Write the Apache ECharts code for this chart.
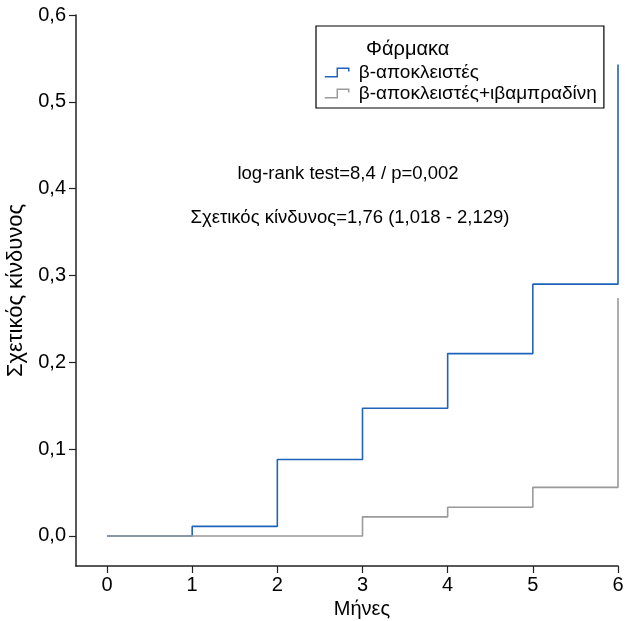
<!DOCTYPE html>
<html>
<head>
<meta charset="utf-8">
<script src="https://cdn.jsdelivr.net/npm/echarts@6/dist/echarts.min.js"></script>
<style>
html, body { margin: 0; padding: 0; background: #fff; }
#chart { width: 625px; height: 621px; }
</style>
</head>
<body>
<div id="chart"></div>
<script>
// χρόνος σε μήνες και αθροιστικός κίνδυνος ανά ομάδα
const months = [0, 1, 2, 3, 4, 5, 6]
const betaBlocker = [0, 0.011, 0.088, 0.147, 0.21, 0.29, 0.543]
const grayMonths = [0, 3, 4, 5, 6]
const betaIvabradine = [0, 0.022, 0.033, 0.056, 0.274]
const yTicks = [0, 0.1, 0.2, 0.3, 0.4, 0.5, 0.6]
const seriesNames = ['β-αποκλειστές', 'β-αποκλειστές+ιβαμπραδίνη']

const font = 'Liberation Sans, Arial, sans-serif'
const stepIcon = 'path://M0,9 L12,9 L12,1 L23,1 L23,4'

const myChart = echarts.init(document.getElementById('chart'))

const option = {
  animation: false,
  title: {
    text: 'Φάρμακα',
    left: 361,
    top: 34,
    textStyle: { fontFamily: font, fontSize: 20, fontWeight: 'normal', color: '#000' }
  },
  legend: {
    data: seriesNames,
    orient: 'vertical',
    left: 316,
    top: 26,
    padding: [37, 7, 5, 8],
    borderColor: '#000',
    borderWidth: 1.2,
    itemGap: 2,
    itemWidth: 24,
    itemHeight: 9,
    icon: stepIcon,
    itemStyle: { color: 'transparent', borderWidth: 1.5 },
    textStyle: { fontFamily: font, fontSize: 19, lineHeight: 19, color: '#000', padding: [0, 0, 0, 5] }
  },
  grid: { left: 76, right: 7, top: 15, bottom: 55, outerBoundsMode: 'none', containLabel: false },
  xAxis: {
    type: 'value',
    min: -0.364,
    max: 6,
    name: 'Μήνες',
    nameLocation: 'middle',
    nameGap: 31,
    nameTextStyle: { fontFamily: font, fontSize: 20, color: '#000', padding: [0, 0, 0, 30] },
    axisLine: { show: true, onZero: false, lineStyle: { color: '#222', width: 1.5 } },
    axisTick: { show: true, length: 7, customValues: months, lineStyle: { color: '#222', width: 1.2 } },
    axisLabel: { customValues: months, fontFamily: font, fontSize: 20, color: '#000', margin: 9 },
    splitLine: { show: false }
  },
  yAxis: {
    type: 'value',
    min: -0.0346,
    max: 0.6,
    name: 'Σχετικός κίνδυνος',
    nameLocation: 'middle',
    nameGap: 44,
    nameTextStyle: { fontFamily: font, fontSize: 22, color: '#000' },
    axisLine: { show: true, onZero: false, lineStyle: { color: '#222', width: 1.5 } },
    axisTick: { show: true, length: 7, customValues: yTicks, lineStyle: { color: '#222', width: 1.2 } },
    axisLabel: {
      customValues: yTicks,
      fontFamily: font,
      fontSize: 20,
      color: '#000',
      margin: 10,
      formatter: v => v.toFixed(1).replace('.', ',')
    },
    splitLine: { show: false }
  },
  graphic: [
    {
      type: 'text',
      style: {
        text: 'log-rank test=8,4 / p=0,002',
        x: 348, y: 174,
        align: 'center', verticalAlign: 'middle',
        font: '18.5px ' + font, fill: '#000'
      }
    },
    {
      type: 'text',
      style: {
        text: 'Σχετικός κίνδυνος=1,76 (1,018 - 2,129)',
        x: 350, y: 218,
        align: 'center', verticalAlign: 'middle',
        font: '18.5px ' + font, fill: '#000'
      }
    }
  ],
  series: [
    {
      name: seriesNames[0],
      type: 'line',
      step: 'end',
      showSymbol: false,
      data: months.map((m, i) => [m, betaBlocker[i]]),
      lineStyle: { color: '#1f64b8', width: 1.6 },
      itemStyle: { color: '#1f64b8', borderColor: '#1f64b8' }
    },
    {
      name: seriesNames[1],
      type: 'line',
      step: 'end',
      showSymbol: false,
      data: grayMonths.map((m, i) => [m, betaIvabradine[i]]),
      lineStyle: { color: '#9a9a9a', width: 1.6 },
      itemStyle: { color: '#9a9a9a', borderColor: '#9a9a9a' }
    }
  ]
}

myChart.setOption(option)
</script>
</body>
</html>
